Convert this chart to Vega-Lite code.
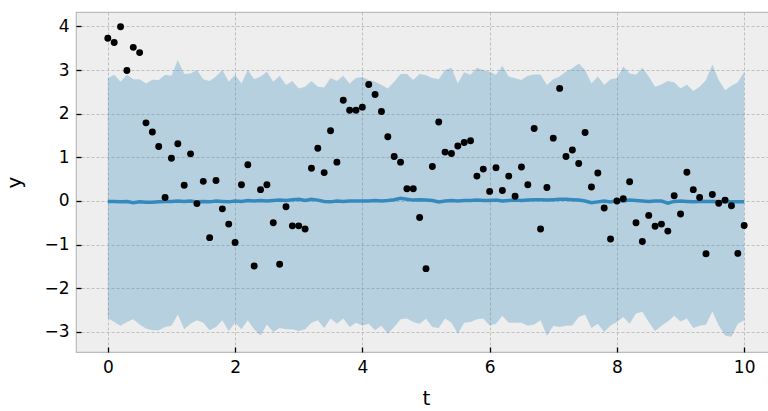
{
  "$schema": "https://vega.github.io/schema/vega-lite/v6.json",
  "width": 700,
  "height": 340,
  "autosize": {"type": "none"},
  "padding": {"left": 76, "top": 12, "right": 0, "bottom": 59},
  "background": "white",
  "config": {
    "view": {"fill": "#eeeeee", "stroke": "#bcbcbc", "strokeWidth": 1.2},
    "axis": {
      "labelFont": "DejaVu Sans",
      "labelFontSize": 17,
      "labelColor": "#000000",
      "titleFont": "DejaVu Sans",
      "titleFontSize": 20,
      "titleFontWeight": "normal",
      "titleColor": "#000000",
      "domain": false,
      "ticks": true,
      "tickColor": "#000000",
      "tickWidth": 1.3,
      "tickSize": -5,
      "labelPadding": 12,
      "grid": true,
      "gridColor": "#b2b2b2",
      "gridWidth": 0.8,
      "gridDash": [3, 2]
    }
  },
  "data": {
    "values": [
      {"t": 0.0, "y": 3.73, "m": -0.01, "lo": -2.68, "hi": 2.81},
      {"t": 0.1, "y": 3.63, "m": -0.01, "lo": -2.77, "hi": 2.89},
      {"t": 0.2, "y": 3.99, "m": -0.02, "lo": -2.86, "hi": 2.73},
      {"t": 0.3, "y": 2.99, "m": -0.01, "lo": -2.77, "hi": 2.89},
      {"t": 0.4, "y": 3.52, "m": -0.04, "lo": -2.71, "hi": 2.79},
      {"t": 0.5, "y": 3.40, "m": -0.02, "lo": -2.83, "hi": 2.79},
      {"t": 0.6, "y": 1.79, "m": -0.03, "lo": -2.92, "hi": 2.69},
      {"t": 0.7, "y": 1.58, "m": -0.03, "lo": -2.96, "hi": 2.78},
      {"t": 0.8, "y": 1.25, "m": -0.02, "lo": -2.96, "hi": 2.77},
      {"t": 0.9, "y": 0.08, "m": -0.01, "lo": -2.89, "hi": 2.89},
      {"t": 1.0, "y": 0.98, "m": -0.01, "lo": -2.86, "hi": 2.87},
      {"t": 1.1, "y": 1.31, "m": 0.0, "lo": -2.60, "hi": 3.23},
      {"t": 1.2, "y": 0.36, "m": -0.01, "lo": -2.94, "hi": 2.91},
      {"t": 1.3, "y": 1.08, "m": 0.0, "lo": -2.81, "hi": 2.92},
      {"t": 1.4, "y": -0.06, "m": -0.02, "lo": -2.73, "hi": 3.00},
      {"t": 1.5, "y": 0.45, "m": -0.01, "lo": -2.79, "hi": 2.79},
      {"t": 1.6, "y": -0.84, "m": -0.02, "lo": -2.96, "hi": 2.75},
      {"t": 1.7, "y": 0.47, "m": 0.0, "lo": -2.89, "hi": 2.85},
      {"t": 1.8, "y": -0.18, "m": -0.01, "lo": -2.73, "hi": 3.00},
      {"t": 1.9, "y": -0.53, "m": -0.02, "lo": -2.98, "hi": 2.73},
      {"t": 2.0, "y": -0.95, "m": 0.0, "lo": -2.79, "hi": 2.89},
      {"t": 2.1, "y": 0.37, "m": -0.01, "lo": -2.94, "hi": 2.69},
      {"t": 2.2, "y": 0.83, "m": 0.01, "lo": -2.73, "hi": 3.00},
      {"t": 2.3, "y": -1.49, "m": 0.0, "lo": -2.94, "hi": 2.79},
      {"t": 2.4, "y": 0.26, "m": 0.01, "lo": -3.08, "hi": 2.85},
      {"t": 2.5, "y": 0.37, "m": 0.0, "lo": -2.83, "hi": 2.96},
      {"t": 2.6, "y": -0.50, "m": 0.01, "lo": -3.00, "hi": 2.73},
      {"t": 2.7, "y": -1.45, "m": 0.02, "lo": -2.91, "hi": 2.87},
      {"t": 2.8, "y": -0.13, "m": 0.01, "lo": -2.94, "hi": 2.66},
      {"t": 2.9, "y": -0.57, "m": 0.03, "lo": -2.94, "hi": 2.75},
      {"t": 3.0, "y": -0.57, "m": 0.04, "lo": -2.98, "hi": 2.58},
      {"t": 3.1, "y": -0.64, "m": 0.01, "lo": -2.94, "hi": 2.62},
      {"t": 3.2, "y": 0.75, "m": 0.04, "lo": -2.79, "hi": 2.75},
      {"t": 3.3, "y": 1.21, "m": 0.02, "lo": -2.73, "hi": 2.62},
      {"t": 3.4, "y": 0.65, "m": -0.01, "lo": -2.91, "hi": 2.60},
      {"t": 3.5, "y": 1.61, "m": -0.02, "lo": -2.69, "hi": 2.82},
      {"t": 3.6, "y": 0.89, "m": 0.0, "lo": -2.81, "hi": 2.75},
      {"t": 3.7, "y": 2.31, "m": -0.01, "lo": -2.69, "hi": 2.87},
      {"t": 3.8, "y": 2.08, "m": 0.0, "lo": -2.89, "hi": 2.69},
      {"t": 3.9, "y": 2.08, "m": 0.0, "lo": -2.79, "hi": 2.82},
      {"t": 4.0, "y": 2.15, "m": 0.0, "lo": -2.85, "hi": 2.84},
      {"t": 4.1, "y": 2.67, "m": 0.0, "lo": -2.81, "hi": 2.77},
      {"t": 4.2, "y": 2.44, "m": 0.01, "lo": -2.96, "hi": 2.73},
      {"t": 4.3, "y": 2.05, "m": 0.0, "lo": -2.86, "hi": 2.66},
      {"t": 4.4, "y": 1.47, "m": 0.01, "lo": -3.04, "hi": 2.58},
      {"t": 4.5, "y": 1.02, "m": 0.03, "lo": -2.89, "hi": 2.73},
      {"t": 4.6, "y": 0.89, "m": 0.06, "lo": -2.71, "hi": 2.91},
      {"t": 4.7, "y": 0.28, "m": 0.04, "lo": -2.69, "hi": 2.91},
      {"t": 4.8, "y": 0.28, "m": 0.02, "lo": -2.77, "hi": 2.77},
      {"t": 4.9, "y": -0.38, "m": 0.03, "lo": -2.81, "hi": 2.91},
      {"t": 5.0, "y": -1.55, "m": 0.02, "lo": -2.70, "hi": 2.88},
      {"t": 5.1, "y": 0.79, "m": 0.01, "lo": -2.89, "hi": 2.82},
      {"t": 5.2, "y": 1.81, "m": -0.02, "lo": -2.91, "hi": 2.79},
      {"t": 5.3, "y": 1.12, "m": 0.0, "lo": -2.69, "hi": 3.00},
      {"t": 5.4, "y": 1.09, "m": 0.01, "lo": -2.79, "hi": 3.05},
      {"t": 5.5, "y": 1.26, "m": 0.0, "lo": -3.04, "hi": 2.69},
      {"t": 5.6, "y": 1.34, "m": 0.01, "lo": -2.79, "hi": 2.95},
      {"t": 5.7, "y": 1.38, "m": 0.01, "lo": -2.77, "hi": 2.89},
      {"t": 5.8, "y": 0.57, "m": 0.02, "lo": -2.71, "hi": 3.05},
      {"t": 5.9, "y": 0.73, "m": 0.01, "lo": -2.69, "hi": 3.00},
      {"t": 6.0, "y": 0.22, "m": 0.01, "lo": -2.85, "hi": 2.96},
      {"t": 6.1, "y": 0.76, "m": 0.02, "lo": -2.81, "hi": 2.89},
      {"t": 6.2, "y": 0.24, "m": 0.0, "lo": -2.63, "hi": 3.09},
      {"t": 6.3, "y": 0.57, "m": 0.01, "lo": -2.79, "hi": 2.85},
      {"t": 6.4, "y": 0.11, "m": 0.02, "lo": -2.79, "hi": 2.81},
      {"t": 6.5, "y": 0.78, "m": 0.01, "lo": -2.79, "hi": 2.77},
      {"t": 6.6, "y": 0.37, "m": 0.02, "lo": -2.86, "hi": 2.87},
      {"t": 6.7, "y": 1.66, "m": 0.03, "lo": -2.83, "hi": 2.90},
      {"t": 6.8, "y": -0.64, "m": 0.03, "lo": -2.73, "hi": 2.90},
      {"t": 6.9, "y": 0.31, "m": 0.02, "lo": -3.09, "hi": 2.66},
      {"t": 7.0, "y": 1.44, "m": 0.03, "lo": -2.86, "hi": 2.79},
      {"t": 7.1, "y": 2.58, "m": 0.04, "lo": -2.89, "hi": 2.85},
      {"t": 7.2, "y": 1.02, "m": 0.04, "lo": -2.86, "hi": 2.96},
      {"t": 7.3, "y": 1.17, "m": 0.03, "lo": -2.85, "hi": 3.04},
      {"t": 7.4, "y": 0.86, "m": 0.02, "lo": -2.66, "hi": 3.15},
      {"t": 7.5, "y": 1.57, "m": 0.0, "lo": -2.60, "hi": 3.00},
      {"t": 7.6, "y": 0.32, "m": -0.04, "lo": -2.91, "hi": 2.69},
      {"t": 7.7, "y": 0.64, "m": -0.02, "lo": -2.81, "hi": 2.85},
      {"t": 7.8, "y": -0.16, "m": 0.0, "lo": -3.00, "hi": 2.66},
      {"t": 7.9, "y": -0.87, "m": -0.02, "lo": -2.85, "hi": 2.79},
      {"t": 8.0, "y": 0.0, "m": 0.01, "lo": -2.77, "hi": 2.81},
      {"t": 8.1, "y": 0.05, "m": 0.0, "lo": -2.66, "hi": 3.08},
      {"t": 8.2, "y": 0.44, "m": 0.02, "lo": -2.81, "hi": 2.92},
      {"t": 8.3, "y": -0.50, "m": 0.01, "lo": -2.58, "hi": 2.89},
      {"t": 8.4, "y": -0.93, "m": 0.0, "lo": -2.54, "hi": 3.05},
      {"t": 8.5, "y": -0.33, "m": -0.01, "lo": -2.77, "hi": 2.85},
      {"t": 8.6, "y": -0.58, "m": 0.0, "lo": -2.98, "hi": 2.62},
      {"t": 8.7, "y": -0.53, "m": 0.0, "lo": -2.86, "hi": 2.67},
      {"t": 8.8, "y": -0.69, "m": -0.05, "lo": -2.76, "hi": 2.75},
      {"t": 8.9, "y": 0.12, "m": -0.01, "lo": -2.63, "hi": 2.72},
      {"t": 9.0, "y": -0.30, "m": 0.0, "lo": -2.76, "hi": 2.58},
      {"t": 9.1, "y": 0.66, "m": -0.01, "lo": -2.69, "hi": 2.67},
      {"t": 9.2, "y": 0.26, "m": -0.02, "lo": -2.91, "hi": 2.52},
      {"t": 9.3, "y": 0.08, "m": -0.01, "lo": -2.86, "hi": 2.62},
      {"t": 9.4, "y": -1.21, "m": -0.01, "lo": -2.83, "hi": 2.77},
      {"t": 9.5, "y": 0.15, "m": -0.01, "lo": -2.53, "hi": 3.13},
      {"t": 9.6, "y": -0.05, "m": -0.02, "lo": -2.85, "hi": 2.77},
      {"t": 9.7, "y": 0.02, "m": -0.01, "lo": -3.08, "hi": 2.54},
      {"t": 9.8, "y": -0.11, "m": -0.02, "lo": -3.11, "hi": 2.64},
      {"t": 9.9, "y": -1.20, "m": -0.02, "lo": -2.81, "hi": 2.72},
      {"t": 10.0, "y": -0.56, "m": -0.02, "lo": -2.73, "hi": 2.96}
    ]
  },
  "encoding": {
    "x": {
      "field": "t",
      "type": "quantitative",
      "scale": {"domain": [-0.5, 10.5], "nice": false, "zero": false},
      "axis": {"values": [0, 2, 4, 6, 8, 10], "title": "t", "titlePadding": 13, "format": "d"}
    }
  },
  "layer": [
    {
      "mark": {"type": "area", "color": "#348ABD", "opacity": 0.3},
      "encoding": {
        "y": {
          "field": "lo",
          "type": "quantitative",
          "scale": {"domain": [-3.46, 4.33], "nice": false, "zero": false},
          "axis": {"values": [-3, -2, -1, 0, 1, 2, 3, 4], "title": "y", "titlePadding": 19, "format": "d"}
        },
        "y2": {"field": "hi"}
      }
    },
    {
      "mark": {"type": "line", "color": "#348ABD", "strokeWidth": 3.5},
      "encoding": {"y": {"field": "m", "type": "quantitative"}}
    },
    {
      "mark": {"type": "point", "filled": true, "color": "#000000", "opacity": 1, "size": 48},
      "encoding": {"y": {"field": "y", "type": "quantitative"}}
    }
  ]
}
